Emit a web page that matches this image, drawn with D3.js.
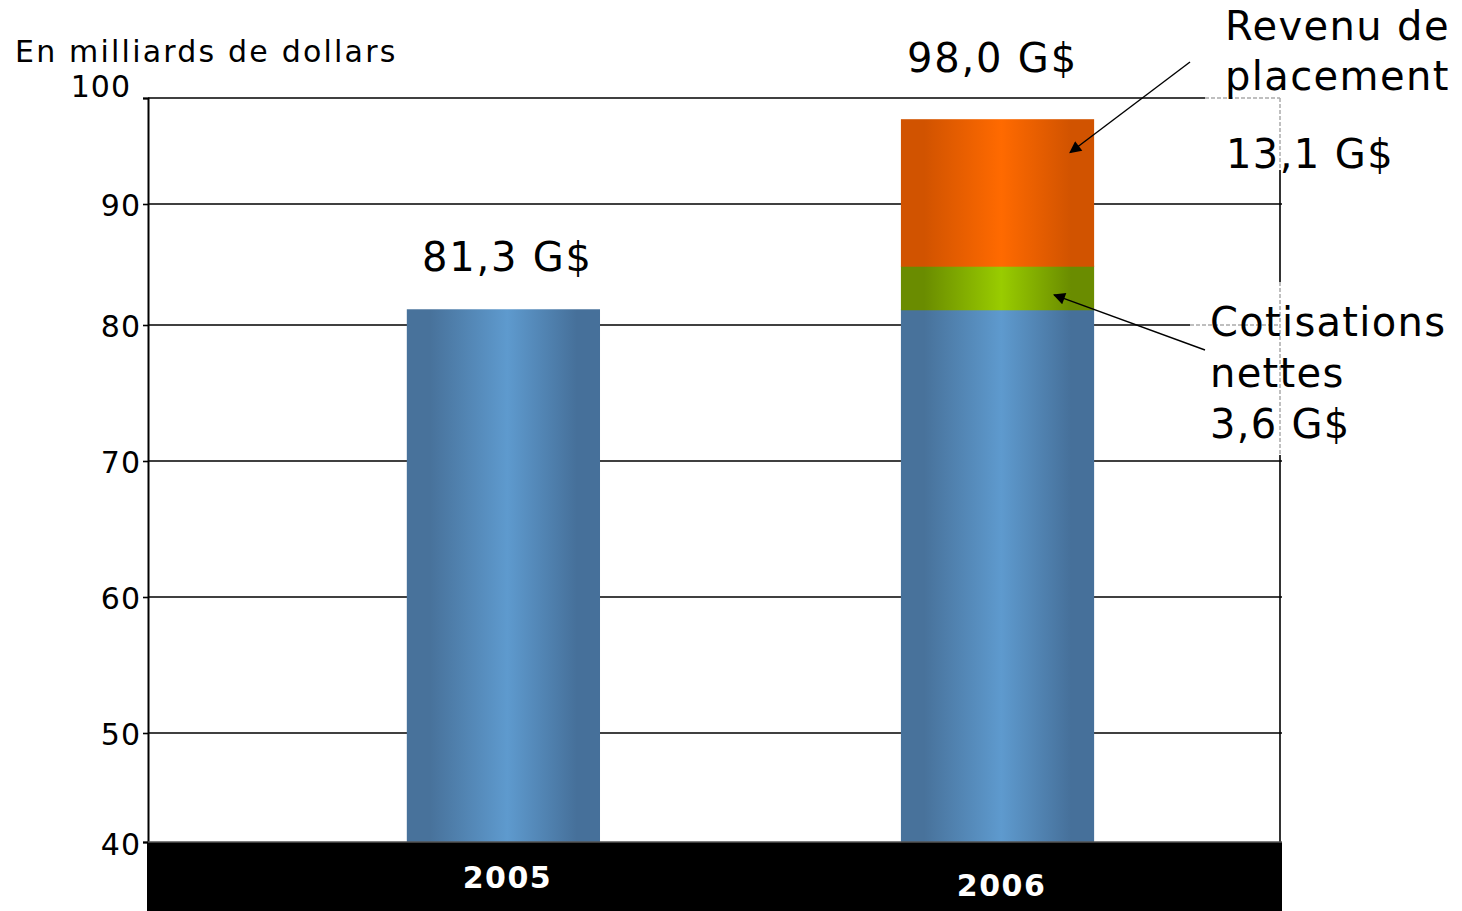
<!DOCTYPE html>
<html><head><meta charset="utf-8">
<script src="https://cdn.jsdelivr.net/npm/d3@7"></script>
<style>
body{margin:0;background:#fff}
svg{display:block}
text{font-family:"DejaVu Sans",Verdana,sans-serif;fill:#000}
</style>
</head><body>
<svg id="c" width="1462" height="911"></svg>
<script>
// ---- data ----
const categories = ["2005", "2006"];
const baseValues = [81.3, 81.3];          // actif au début
const netContributions = [0, 3.6];        // Cotisations nettes
const investmentIncome = [0, 13.1];       // Revenu de placement
const totalLabels = ["81,3 G$", "98,0 G$"];
const yTicks = [40, 50, 60, 70, 80, 90, 100];
const unitLabel = "En milliards de dollars";
const incomeLabel = ["Revenu de", "placement", "", "13,1 G$"];
const contribLabel = ["Cotisations", "nettes", "3,6 G$"];

// ---- layout ----
const svg = d3.select("#c");
const left = 148, right = 1280;
const y = d3.scaleLinear().domain(yTicks).range([842, 733, 597, 461, 325, 204, 98]);
const x = d3.scaleBand().domain(categories).range([left, right])
  .paddingInner(0.609).paddingOuter(0.45).align(0.582);

const defs = svg.append("defs");
function grad(id, edgeL, mid, edgeR) {
  const g = defs.append("linearGradient").attr("id", id).attr("x1", 0).attr("x2", 1).attr("y1", 0).attr("y2", 0);
  g.append("stop").attr("offset", "0%").attr("stop-color", edgeL);
  g.append("stop").attr("offset", "12%").attr("stop-color", edgeL);
  g.append("stop").attr("offset", "52%").attr("stop-color", mid);
  g.append("stop").attr("offset", "88%").attr("stop-color", edgeR);
  g.append("stop").attr("offset", "100%").attr("stop-color", edgeR);
}
grad("gBlue", "#48729b", "#5e9ace", "#46709a");
grad("gGreen", "#6a8c00", "#99cc00", "#6a8c00");
grad("gOrange", "#d15300", "#ff6a00", "#d15300");

defs.append("marker").attr("id", "arr").attr("viewBox", "0 0 10 10")
  .attr("refX", 9).attr("refY", 5).attr("markerWidth", 18).attr("markerHeight", 12)
  .attr("markerUnits", "userSpaceOnUse").attr("orient", "auto")
  .append("path").attr("d", "M0,0 L10,5 L0,10 Z").attr("fill", "#000");

// gridlines
svg.append("g").selectAll("line").data(yTicks.slice(1)).join("line")
  .attr("x1", left).attr("x2", d => d === 80 ? 1190 : (d === 100 ? 1205 : right + 2))
  .attr("y1", d => y(d)).attr("y2", d => y(d))
  .attr("stroke", "#000").attr("stroke-width", 1.6);

// right border (solid parts) + textbox-dashed parts
svg.append("line").attr("x1", right).attr("x2", right).attr("y1", 170).attr("y2", 282)
  .attr("stroke", "#000").attr("stroke-width", 1.6);
svg.append("line").attr("x1", right).attr("x2", right).attr("y1", 455).attr("y2", 842)
  .attr("stroke", "#000").attr("stroke-width", 1.6);
const dashed = [
  [1205, y(100), right, y(100)],
  [right, y(100), right, 170],
  [1190, y(80), right, y(80)],
  [right, 282, right, 455]
];
svg.append("g").selectAll("line").data(dashed).join("line")
  .attr("x1", d => d[0]).attr("y1", d => d[1]).attr("x2", d => d[2]).attr("y2", d => d[3])
  .attr("stroke", "#aaa").attr("stroke-width", 1.5).attr("stroke-dasharray", "4,2");

// bars
const stacks = categories.map((c, i) => {
  const b = baseValues[i], n = netContributions[i], inc = investmentIncome[i];
  return [
    {c, y0: 40, y1: b, fill: "url(#gBlue)"},
    {c, y0: b, y1: b + n, fill: "url(#gGreen)"},
    {c, y0: b + n, y1: b + n + inc, fill: "url(#gOrange)"}
  ].filter(s => s.y1 > s.y0);
}).flat();
svg.append("g").selectAll("rect").data(stacks).join("rect")
  .attr("x", d => x(d.c)).attr("width", x.bandwidth())
  .attr("y", d => y(d.y1)).attr("height", d => y(d.y0) - y(d.y1) + 1)
  .attr("fill", d => d.fill);

// left axis
const yAxis = d3.axisLeft(y).tickValues(yTicks).tickSize(5).tickFormat(d3.format("d"));
const ag = svg.append("g").attr("transform", `translate(${left},0)`).call(yAxis);
ag.select(".domain").attr("stroke", "#000").attr("stroke-width", 2);
ag.selectAll(".tick line").attr("stroke", "#000").attr("stroke-width", 1.6);
ag.selectAll(".tick text").attr("font-size", 30).attr("font-family", "DejaVu Sans")
  .attr("letter-spacing", 1).attr("fill", "#000").attr("x", -7)
  .attr("dy", d => d === 100 ? "-0.05em" : (d === 40 ? "0.42em" : "0.38em"))
  .attr("dx", d => d === 100 ? -10 : 0);

// bottom black band
svg.append("rect").attr("x", left - 1).attr("y", y(40)).attr("width", right - left + 3).attr("height", 911 - y(40))
  .attr("fill", "#000");
svg.append("line").attr("x1", left).attr("x2", right + 2).attr("y1", y(40)).attr("y2", y(40))
  .attr("stroke", "#555").attr("stroke-width", 1.5);
svg.append("g").selectAll("text").data(categories).join("text")
  .attr("x", d => x(d) + x.bandwidth() / 2 + 4)
  .attr("y", (d, i) => i === 0 ? 888 : 896)
  .attr("text-anchor", "middle").attr("font-size", 30).attr("font-weight", "bold")
  .attr("letter-spacing", 1.5)
  .style("fill", "#fff").text(d => d);

// total labels
svg.append("g").selectAll("text").data(categories).join("text")
  .attr("x", (d, i) => x(d) + x.bandwidth() / 2 + (i === 0 ? 4 : -5))
  .attr("y", (d, i) => y(baseValues[i] + netContributions[i] + investmentIncome[i]) - (i === 0 ? 38 : 47))
  .attr("text-anchor", "middle").attr("font-size", 40).attr("letter-spacing", 1.8)
  .text((d, i) => totalLabels[i]);

// unit label
svg.append("text").attr("x", 15).attr("y", 62).attr("font-size", 30).attr("letter-spacing", 2.2).text(unitLabel);

// annotation texts
svg.append("g").selectAll("text").data(incomeLabel).join("text")
  .attr("x", (d, i) => i === 3 ? 1226 : 1225).attr("y", (d, i) => 40 + i * 50 - (i === 3 ? 22 : 0))
  .attr("font-size", 40).attr("letter-spacing", 1.4).text(d => d);
svg.append("g").selectAll("text").data(contribLabel).join("text")
  .attr("x", 1210).attr("y", (d, i) => 336 + i * 51)
  .attr("font-size", 40).attr("letter-spacing", 1.3).text(d => d);

// arrows
const x2006 = x("2006") + x.bandwidth();
svg.append("line").attr("x1", 1190).attr("y1", 62).attr("x2", x2006 - 24)
  .attr("y2", y(baseValues[1] + netContributions[1] + investmentIncome[1] * 0.76))
  .attr("stroke", "#000").attr("stroke-width", 1.4).attr("marker-end", "url(#arr)");
svg.append("line").attr("x1", 1205).attr("y1", 350).attr("x2", x2006 - 40)
  .attr("y2", y(baseValues[1] + netContributions[1] * 0.33))
  .attr("stroke", "#000").attr("stroke-width", 1.4).attr("marker-end", "url(#arr)");
</script>
</body></html>
